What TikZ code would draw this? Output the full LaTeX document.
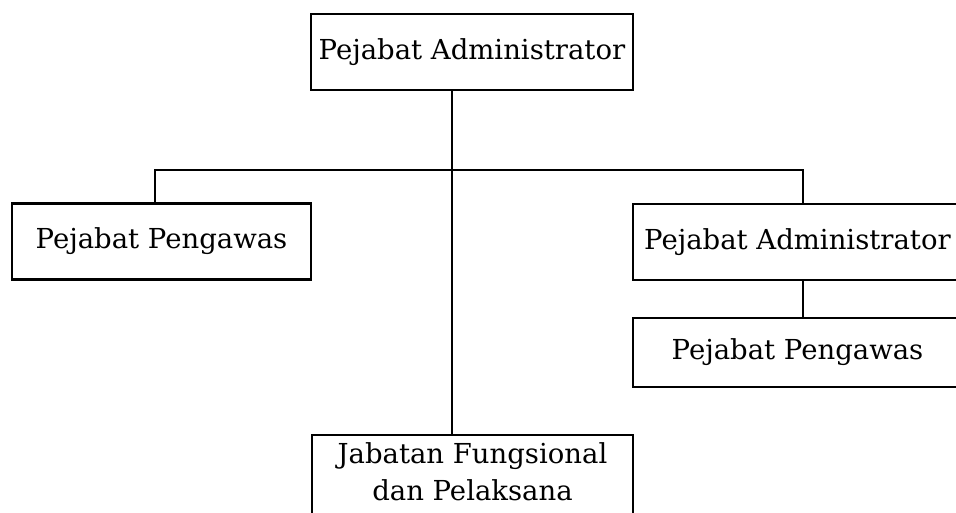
\documentclass[tikz,border=0pt]{standalone}
\usepackage{fontspec}
\setmainfont{DejaVu Serif}
\usepackage{tikz}
\tikzset{%
  orgbox/.style  = {shape=rectangle, draw, line width=2.2pt,%
                    align=center, inner sep=0pt,%
                    font=\fontsize{27.5}{37}\selectfont},%
  wide/.style    = {orgbox, minimum height=76pt},%
  link/.style    = {line width=2.2pt}%
}
\begin{document}
\begin{tikzpicture}[x=1pt,y=1pt]
	\clip (0,0) rectangle (956,513);
	\node [wide, minimum width=322pt] (admin) at (472,461) {Pejabat Administrator};
	\node [wide, minimum width=299pt] (pengawasL) at (161.5,271.5) {Pejabat Pengawas};
	\node [wide, minimum width=329pt] (adminR) at (797.5,271) {Pejabat Administrator};
	\node [orgbox, minimum width=329pt, minimum height=69pt] (pengawasR) at (797.5,160.5) {Pejabat Pengawas};
	\node [orgbox, minimum width=321pt, anchor=north, inner ysep=8pt] (fungsi) at (472.5,79)
		{Jabatan Fungsional\\dan Pelaksana\rule[-20pt]{0pt}{20pt}};
	\coordinate (mid) at (452,343);
	\coordinate (jl) at (155,343);
	\coordinate (jr) at (803,343);
	\draw [link] (admin.south -| mid) -- (fungsi.north -| mid);
	\draw [link] (pengawasL.north -| jl) -- (jl) -- (jr) -- (adminR.north -| jr);
	\draw [link] (adminR.south -| jr) -- (pengawasR.north -| jr);
\end{tikzpicture}
\end{document}
